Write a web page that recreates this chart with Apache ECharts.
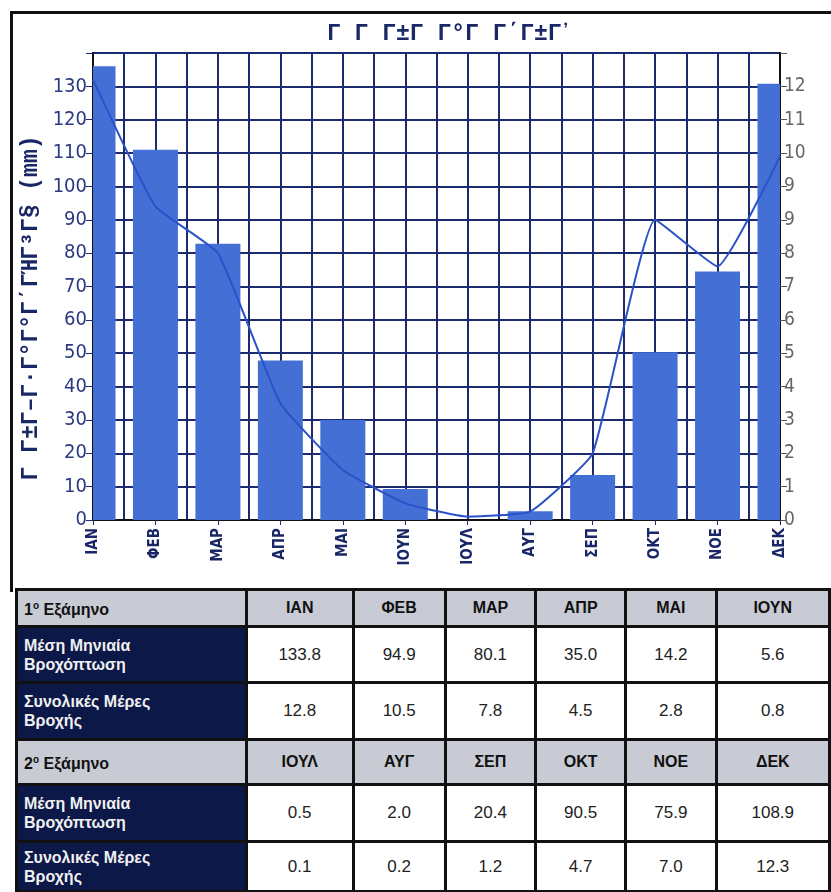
<!DOCTYPE html>
<html>

<head>
	<meta charset="utf-8">
	<script type="text/javascript" src="https://cdn.jsdelivr.net/npm/echarts@6/dist/echarts.min.js"></script>
	<style>
		body { margin: 0; background: #fff; }
		#frame { position: absolute; left: 10px; top: 11px; width: 830px; height: 578px; border-left: 3px solid #111; border-top: 3px solid #111; }
		#main { position: absolute; left: 0; top: 0; width: 831px; height: 580px; }
		#tbl { position: absolute; left: 15px; top: 588px; border-collapse: collapse; font-family: "Liberation Sans", Arial, sans-serif; }
		#tbl td { border: 3px solid #111; text-align: center; font-size: 17px; color: #222; padding: 0; }
		#tbl td.side { background: #0c1848; color: #f0f0f0; text-align: left; font-weight: bold; font-size: 16px; padding-left: 6px; line-height: 19px; }
		#tbl tr.head td { background: #c9cbd4; font-weight: bold; font-size: 16px; color: #111; }
		#tbl sup { font-size: 10px; }
	</style>
</head>

<body>
	<div id="frame"></div>
	<div id="main"></div>
	<table id="tbl"></table>

	<script type="text/javascript">

		var months = ['ΙΑΝ', 'ΦΕΒ', 'ΜΑΡ', 'ΑΠΡ', 'ΜΑΙ', 'ΙΟΥΝ', 'ΙΟΥΛ', 'ΑΥΓ', 'ΣΕΠ', 'ΟΚΤ', 'ΝΟΕ', 'ΔΕΚ'];
		// bars (left axis, mm)
		var rainBars = [136, 111, 82.8, 47.8, 30, 9.3, 0, 2.6, 13.5, 50.3, 74.5, 130.8];
		// line (right axis, read in tick positions)
		var dayLine = [13.2, 9.4, 8.0, 3.5, 1.5, 0.5, 0.1, 0.25, 2.0, 9.0, 7.6, 10.9];
		var rightTicks = ['0', '1', '2', '3', '4', '5', '6', '7', '8', '9', '9', '10', '11', '12'];

		// table values
		var tblRain = [133.8, 94.9, 80.1, 35.0, 14.2, 5.6, 0.5, 2.0, 20.4, 90.5, 75.9, 108.9];
		var tblDays = [12.8, 10.5, 7.8, 4.5, 2.8, 0.8, 0.1, 0.2, 1.2, 4.7, 7.0, 12.3];

		var navy = '#1d2b6e';

		var chart = echarts.init(document.getElementById('main'));
		chart.setOption({
			animation: false,
			title: {
				text: 'Γ Γ Γ±Γ Γ°Γ Γ΄Γ±Γ᾿',
				left: 322, top: 18,
				textStyle: { color: '#1a2766', fontSize: 23, fontWeight: 'bold', fontFamily: 'Liberation Mono' }
			},
			graphic: [{
				type: 'text',
				x: 31, y: 308,
				rotation: Math.PI / 2,
				style: {
					text: 'Γ Γ±Γ–Γ·Γ°Γ°Γ΄ΓΉΓ³Γ§ (mm)',
					fill: '#1a2766', font: 'bold 23px Liberation Mono',
					textAlign: 'center', textVerticalAlign: 'middle'
				}
			}],
			grid: {
				left: 93, right: 51, top: 53, bottom: 60,
				show: true, borderColor: '#111', borderWidth: 2
			},
			xAxis: [{
				type: 'category',
				data: months,
				boundaryGap: false,
				axisLine: { lineStyle: { color: '#111', width: 2 } },
				axisTick: { length: 5, lineStyle: { color: navy } },
				axisLabel: { rotate: 90, color: '#1a2766', fontSize: 15, fontWeight: 'bold', fontFamily: 'DejaVu Sans Condensed', margin: 8 },
				splitLine: { show: false }
			}, {
				type: 'value',
				min: 0, max: 22, interval: 1,
				position: 'bottom',
				axisLine: { show: false },
				axisTick: { show: false },
				axisLabel: { show: false },
				splitLine: { show: true, lineStyle: { color: navy, width: 2 } }
			}],
			yAxis: [{
				type: 'value',
				min: 0, max: 140, interval: 10,
				axisLine: { show: true, lineStyle: { color: '#111', width: 2 } },
				axisTick: { show: true, length: 7, lineStyle: { color: navy } },
				axisLabel: {
					color: '#2b3a80', fontSize: 20, fontFamily: 'DejaVu Sans Condensed', margin: 6,
					formatter: function (v) { return v >= 140 ? '' : v; }
				},
				splitLine: { lineStyle: { color: navy, width: 2 } }
			}, {
				type: 'value',
				min: 0, max: 14, interval: 1,
				position: 'right',
				axisLine: { show: true, lineStyle: { color: '#111', width: 2 } },
				axisTick: { show: true, length: 7, lineStyle: { color: '#555' } },
				axisLabel: {
					color: '#666', fontSize: 19, fontFamily: 'DejaVu Sans Condensed', margin: 4,
					formatter: function (v) { return v >= 14 ? '' : rightTicks[v]; }
				},
				splitLine: { show: false }
			}],
			series: [{
				// custom bars so the end bars get cut at the plot edge
				type: 'custom',
				data: rainBars.map(function (v, i) { return [i, v]; }),
				encode: { x: 0, y: 1 },
				itemStyle: { color: '#4470d6' },
				renderItem: function (params, api) {
					var top = api.coord([api.value(0), api.value(1)]);
					var base = api.coord([api.value(0), 0]);
					var w = 45;
					var shape = echarts.graphic.clipRectByRect({
						x: top[0] - w / 2, y: top[1], width: w, height: base[1] - top[1]
					}, params.coordSys);
					return shape && { type: 'rect', shape: shape, style: api.style() };
				}
			}, {
				type: 'line',
				yAxisIndex: 1,
				data: dayLine,
				smooth: 0.12,
				symbol: 'none',
				lineStyle: { color: '#2a52c8', width: 2 },
				z: 5
			}]
		});

		// table below the chart
		var colW = [233, 107, 92, 90, 90, 90, 114];
		var rowH = [37, 56, 57, 45, 57, 50];
		var html = '';
		function row(cls, h, side, vals) {
			var s = '<tr class="' + cls + '" style="height:' + h + 'px"><td class="side" style="width:' + (colW[0] - 6) + 'px">' + side + '</td>';
			for (var i = 0; i < vals.length; i++) {
				s += '<td style="width:' + colW[i + 1] + 'px">' + vals[i] + '</td>';
			}
			return s + '</tr>';
		}
		for (var half = 0; half < 2; half++) {
			var a = half * 6;
			html += row('head', rowH[half * 3], (half + 1) + '<sup>ο</sup> Εξάμηνο', months.slice(a, a + 6));
			html += row('', rowH[half * 3 + 1], 'Μέση Μηνιαία<br>Βροχόπτωση', tblRain.slice(a, a + 6).map(function (v) { return v.toFixed(1); }));
			html += row('', rowH[half * 3 + 2], 'Συνολικές Μέρες<br>Βροχής', tblDays.slice(a, a + 6).map(function (v) { return v.toFixed(1); }));
		}
		document.getElementById('tbl').innerHTML = html;

	</script>
</body>

</html>
